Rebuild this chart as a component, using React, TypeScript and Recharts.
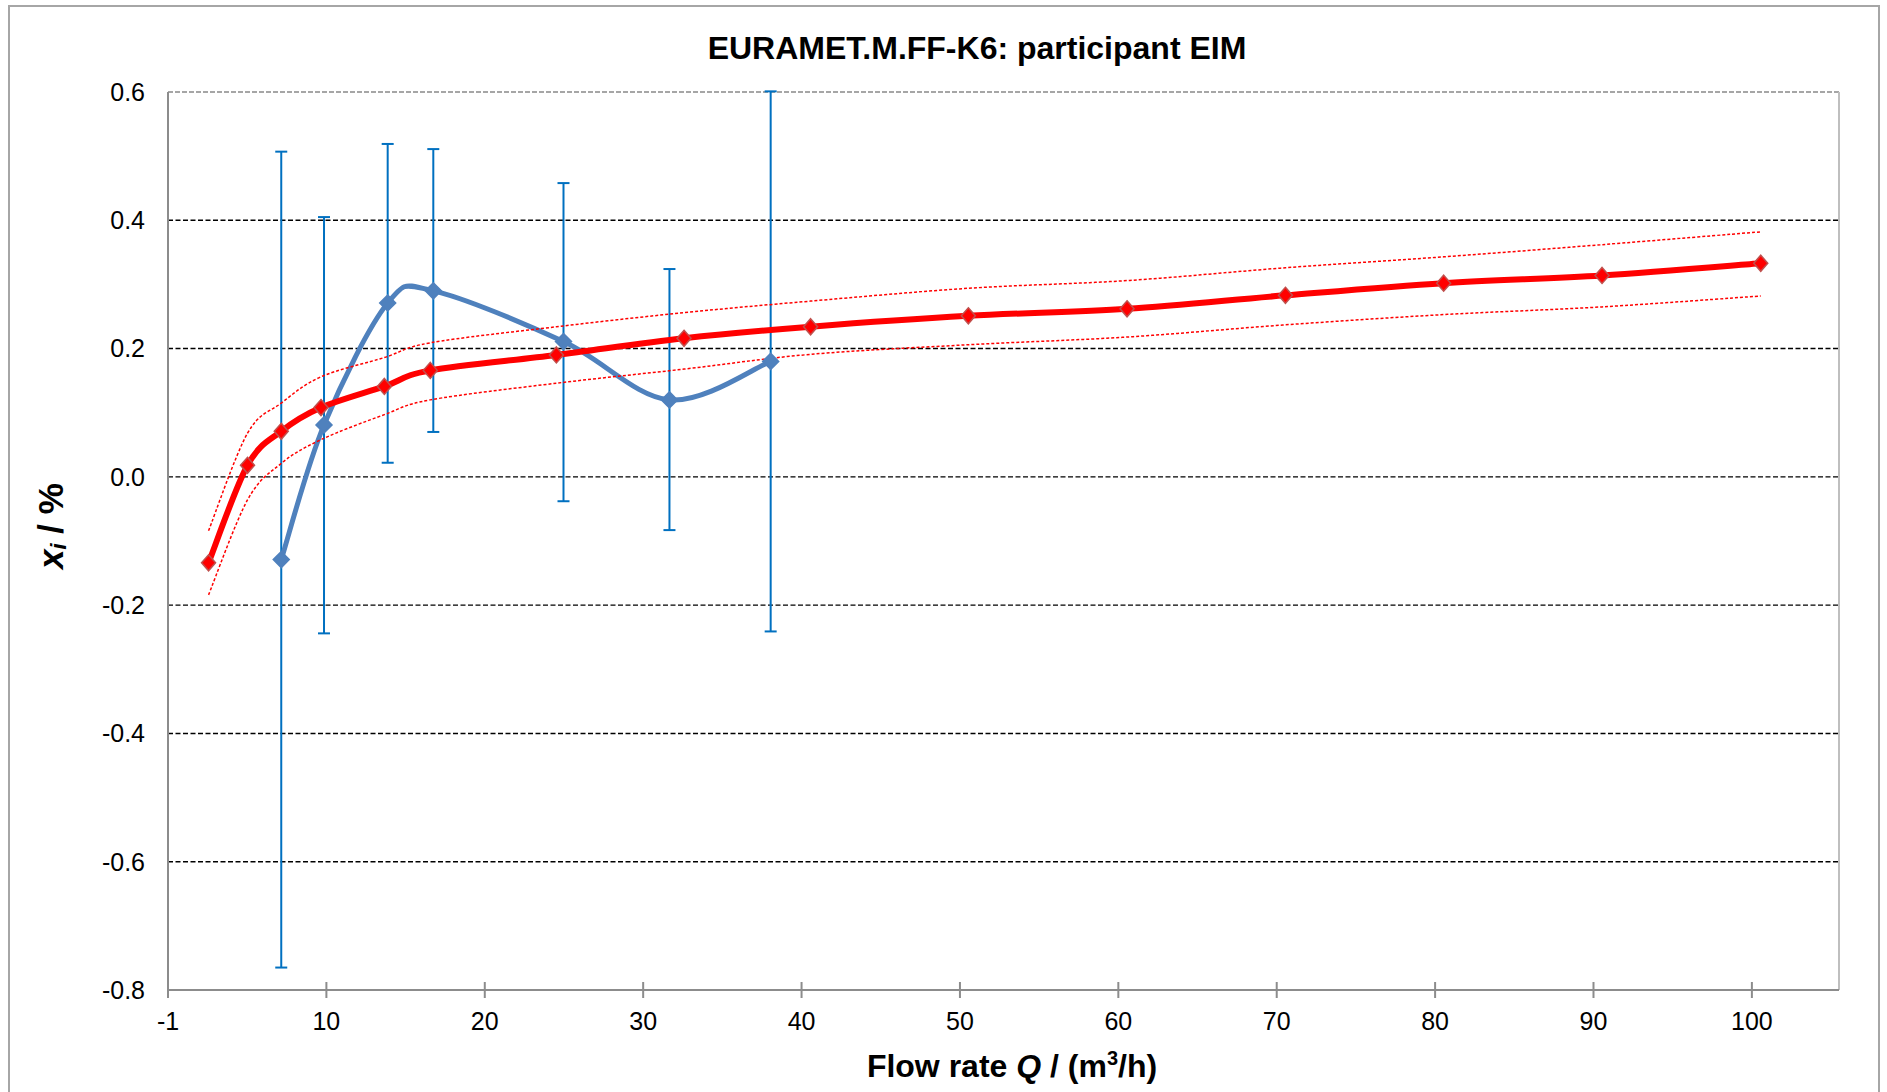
import React from "react";
import { LineChart, Line, XAxis, YAxis, ReferenceLine, ErrorBar } from "recharts";

// KCRV curve (red) with its uncertainty band
const refFlow = [2.56, 5.02, 7.15, 9.66, 13.66, 16.56, 24.52, 32.58, 40.57, 50.53, 60.55, 70.55, 80.54, 90.54, 100.56];
const refValue = [-0.134, 0.018, 0.071, 0.108, 0.141, 0.166, 0.19, 0.216, 0.234, 0.251, 0.262, 0.283, 0.302, 0.314, 0.333];
const refUpper = [-0.084, 0.068, 0.115, 0.156, 0.186, 0.209, 0.234, 0.256, 0.274, 0.294, 0.306, 0.326, 0.343, 0.362, 0.382];
const refLower = [-0.184, -0.036, 0.021, 0.058, 0.097, 0.12, 0.146, 0.168, 0.191, 0.206, 0.218, 0.237, 0.253, 0.265, 0.282];

// participant EIM (blue) with error bar limits
const eimFlow = [7.15, 9.85, 13.87, 16.75, 24.97, 31.66, 38.05];
const eimValue = [-0.129, 0.081, 0.271, 0.29, 0.211, 0.12, 0.18];
const eimHigh = [0.507, 0.405, 0.519, 0.511, 0.458, 0.324, 0.601];
const eimLow = [-0.765, -0.244, 0.022, 0.07, -0.038, -0.083, -0.241];

const xTicks = [0, 10, 20, 30, 40, 50, 60, 70, 80, 90, 100];
const xTickLabels = ["-1", "10", "20", "30", "40", "50", "60", "70", "80", "90", "100"];
const yTicks = [-0.8, -0.6, -0.4, -0.2, 0, 0.2, 0.4, 0.6];
const gridValues = [-0.6, -0.4, -0.2, 0, 0.2, 0.4];

const FONT = "'Liberation Sans', Arial, sans-serif";

// Excel-like smoothed line (Catmull-Rom as cubic bezier)
function excelCurve(context: any) {
  let pts: number[][] = [];
  return {
    areaStart() {},
    areaEnd() {},
    lineStart() {
      pts = [];
    },
    point(x: number, y: number) {
      pts.push([+x, +y]);
    },
    lineEnd() {
      const n = pts.length;
      if (!n) return;
      context.moveTo(pts[0][0], pts[0][1]);
      for (let i = 0; i < n - 1; i++) {
        const p0 = pts[Math.max(i - 1, 0)];
        const p1 = pts[i];
        const p2 = pts[i + 1];
        const p3 = pts[Math.min(i + 2, n - 1)];
        context.bezierCurveTo(
          p1[0] + (p2[0] - p0[0]) / 6,
          p1[1] + (p2[1] - p0[1]) / 6,
          p2[0] - (p3[0] - p1[0]) / 6,
          p2[1] - (p3[1] - p1[1]) / 6,
          p2[0],
          p2[1]
        );
      }
    },
  };
}

const refData = refFlow.map((x, i) => ({ x, y: refValue[i] }));
const upperData = refFlow.map((x, i) => ({ x, y: refUpper[i] }));
const lowerData = refFlow.map((x, i) => ({ x, y: refLower[i] }));
const eimData = eimFlow.map((x, i) => ({
  x,
  y: eimValue[i],
  err: [eimValue[i] - eimLow[i], eimHigh[i] - eimValue[i]],
}));

function diamond(fill: string, stroke: string, w: number, h: number) {
  return (props: any) => {
    const { cx, cy, index } = props;
    if (cx == null || cy == null) return <g key={index} />;
    return (
      <path
        key={index}
        d={`M${cx},${cy - h} L${cx + w},${cy} L${cx},${cy + h} L${cx - w},${cy} Z`}
        fill={fill}
        stroke={stroke}
        strokeWidth={1.5}
      />
    );
  };
}

function XTick(props: any) {
  const { x, y, payload, index } = props;
  return (
    <g>
      <line x1={x} x2={x} y1={y - 8} y2={y + 8} stroke="#8c8c8c" strokeWidth={2} />
      <text
        x={x}
        y={y + 22}
        dy="0.71em"
        textAnchor="middle"
        fontFamily={FONT}
        fontSize={25}
        fill="#000"
      >
        {xTickLabels[index] ?? payload.value}
      </text>
    </g>
  );
}

export default function App() {
  return (
    <div style={{ position: "absolute", left: 0, top: 0, width: 1887, height: 1092, overflow: "hidden", background: "#fff" }}>
      <div
        style={{
          position: "absolute",
          left: 8,
          top: 5,
          width: 1872,
          height: 1100,
          border: "2px solid #a6a6a6",
          boxSizing: "border-box",
        }}
      />
      <div style={{ position: "absolute", left: 0, top: 0 }}>
        <LineChart width={1887} height={1092} margin={{ top: 92, right: 48, bottom: 42, left: 108 }}>
          <XAxis
            dataKey="x"
            type="number"
            domain={[0, 105.5]}
            allowDataOverflow
            ticks={xTicks}
            interval={0}
            height={60}
            tickLine={false}
            tickSize={0}
            tickMargin={0}
            axisLine={{ stroke: "#8c8c8c", strokeWidth: 2 }}
            tick={<XTick />}
          />
          <YAxis
            type="number"
            domain={[-0.8, 0.6]}
            allowDataOverflow
            ticks={yTicks}
            interval={0}
            width={60}
            tickLine={false}
            tickSize={0}
            tickMargin={23}
            axisLine={{ stroke: "#8c8c8c", strokeWidth: 2 }}
            tickFormatter={(v: number) => v.toFixed(1)}
            tick={{ fontFamily: FONT, fontSize: 25, fill: "#000" }}
          />
          {gridValues.map((v) => (
            <ReferenceLine key={v} y={v} stroke="#000" strokeWidth={1.4} strokeDasharray="5 2.5" />
          ))}
          <ReferenceLine y={0.6} stroke="#a6a6a6" strokeWidth={2} strokeDasharray="5 2" />
          <ReferenceLine x={105.5} stroke="#bfbfbf" strokeWidth={2} />

          <Line
            data={eimData}
            dataKey="y"
            type={excelCurve as any}
            stroke="#4f81bd"
            strokeWidth={5}
            dot={diamond("#4f81bd", "#4f81bd", 8, 8)}
            activeDot={false}
            isAnimationActive={false}
          >
            <ErrorBar dataKey="err" direction="y" width={6} stroke="#0070c0" strokeWidth={2} />
          </Line>
          <Line
            data={upperData}
            dataKey="y"
            type={excelCurve as any}
            stroke="#ff0000"
            strokeWidth={1.5}
            strokeDasharray="3 2"
            dot={false}
            activeDot={false}
            isAnimationActive={false}
          />
          <Line
            data={lowerData}
            dataKey="y"
            type={excelCurve as any}
            stroke="#ff0000"
            strokeWidth={1.5}
            strokeDasharray="3 2"
            dot={false}
            activeDot={false}
            isAnimationActive={false}
          />
          <Line
            data={refData}
            dataKey="y"
            type={excelCurve as any}
            stroke="#ff0000"
            strokeWidth={6}
            dot={diamond("#ff0000", "#c0504d", 7, 8)}
            activeDot={false}
            isAnimationActive={false}
          />
        </LineChart>
      </div>
      <svg width={1887} height={1092} style={{ position: "absolute", left: 0, top: 0, pointerEvents: "none" }}>
        <text x={977} y={59} textAnchor="middle" fontFamily={FONT} fontWeight="bold" fontSize={32} fill="#000">
          EURAMET.M.FF-K6: participant EIM
        </text>
        <text x={1012} y={1077} textAnchor="middle" fontFamily={FONT} fontWeight="bold" fontSize={32} fill="#000">
          Flow rate <tspan fontStyle="italic">Q</tspan> / (m
          <tspan dy={-12} fontSize={20}>3</tspan>
          <tspan dy={12}>/h)</tspan>
        </text>
        <text
          x={50}
          y={526}
          transform="rotate(-90, 50, 526)"
          textAnchor="middle"
          dominantBaseline="central"
          fontFamily={FONT}
          fontWeight="bold"
          fontSize={35}
          fill="#000"
        >
          <tspan fontStyle="italic">x</tspan>
          <tspan fontStyle="italic" fontSize={22} dy={8}>i</tspan>
          <tspan dy={-8}> / %</tspan>
        </text>
      </svg>
    </div>
  );
}
